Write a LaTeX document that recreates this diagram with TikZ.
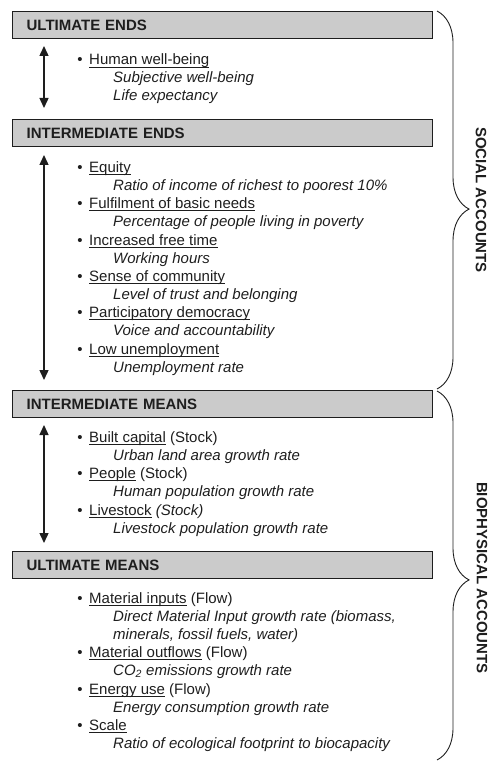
\documentclass[tikz,border=0pt]{standalone}
\usepackage{fontspec}
\setmainfont{Liberation Sans}
\usetikzlibrary{arrows.meta,positioning,decorations.pathreplacing}
\definecolor{ink}{HTML}{1E1E1E}
\definecolor{boxgray}{HTML}{CBCBCB}
\newsavebox{\ulbox}
\newcommand{\ulin}[1]{\sbox{\ulbox}{#1}\rlap{\rule[-2.6pt]{\wd\ulbox}{0.9pt}}\usebox{\ulbox}}
\newcommand{\bul}{\llap{\textbullet\hspace{6.5pt}}}
\begin{document}
\begin{tikzpicture}[x=1pt, y=1pt, font=\fontsize{15}{18}\selectfont, text=ink,
	hdr/.style = {draw=ink, fill=boxgray, line width=1.3pt, anchor=north west, text width=392pt, inner xsep=14pt, inner ysep=0pt, minimum height=27pt, align=left, font=\fontsize{15}{18}\selectfont\bfseries},
	itm/.style = {anchor=west, inner sep=0pt, text height=11pt, text depth=3pt},
	sub/.style = {itm, font=\fontsize{15}{18}\selectfont\itshape},
	updown/.style = {{Triangle[length=10pt,width=9pt]}-{Triangle[length=10pt,width=9pt]}, draw=ink, line width=1.4pt},
	brc/.style = {draw=ink, line width=0.9pt, decorate, decoration={brace, amplitude=32pt, aspect=#1}},
	side/.style = {rotate=-90, font=\fontsize{15}{18}\selectfont\bfseries}]
\useasboundingbox (0,0) rectangle (493,-762);
% headers
\node [hdr] (ue) at (12,-11) {ULTIMATE ENDS};
\node [hdr] (ie) at (12,-119) {INTERMEDIATE ENDS};
\node [hdr] (im) at (12,-390) {INTERMEDIATE MEANS};
\node [hdr] (um) at (12,-551) {ULTIMATE MEANS};
% ultimate ends
\node [itm] (hwb) at (89,-61) {\bul\ulin{Human well-being}};
\node [sub] (swb) at (113,-79) {Subjective well-being};
\node [sub] (lex) at (113,-97) {Life expectancy};
% intermediate ends
\node [itm] (eq) at (89,-168) {\bul\ulin{Equity}};
\node [sub] (eqr) at (113,-186) {Ratio of income of richest to poorest 10\%};
\node [itm] (bn) at (89,-204) {\bul\ulin{Fulfilment of basic needs}};
\node [sub] (bnr) at (113,-222) {Percentage of people living in poverty};
\node [itm] (ft) at (89,-241) {\bul\ulin{Increased free time}};
\node [sub] (ftr) at (113,-259) {Working hours};
\node [itm] (sc) at (89,-277) {\bul\ulin{Sense of community}};
\node [sub] (scr) at (113,-295) {Level of trust and belonging};
\node [itm] (pd) at (89,-313) {\bul\ulin{Participatory democracy}};
\node [sub] (pdr) at (113,-331) {Voice and accountability};
\node [itm] (lu) at (89,-350) {\bul\ulin{Low unemployment}};
\node [sub] (lur) at (113,-368) {Unemployment rate};
% intermediate means
\node [itm] (bc) at (89,-438) {\bul\ulin{Built capital} (Stock)};
\node [sub] (bcr) at (113,-456) {Urban land area growth rate};
\node [itm] (pp) at (89,-474) {\bul\ulin{People} (Stock)};
\node [sub] (ppr) at (113,-492) {Human population growth rate};
\node [itm] (ls) at (89,-511) {\bul\ulin{Livestock} \textit{(Stock)}};
\node [sub] (lsr) at (113,-529) {Livestock population growth rate};
% ultimate means
\node [itm] (mi) at (89,-599) {\bul\ulin{Material inputs} (Flow)};
\node [sub] (mir) at (113,-617) {Direct Material Input growth rate (biomass,};
\node [sub] (mir2) at (113,-635) {minerals, fossil fuels, water)};
\node [itm] (mo) at (89,-653) {\bul\ulin{Material outflows} (Flow)};
\node [sub] (mor) at (113,-671) {CO\textsubscript{2} emissions growth rate};
\node [itm] (eu) at (89,-690) {\bul\ulin{Energy use} (Flow)};
\node [sub] (eur) at (113,-708) {Energy consumption growth rate};
\node [itm] (sl) at (89,-726) {\bul\ulin{Scale}};
\node [sub] (slr) at (113,-744) {Ratio of ecological footprint to biocapacity};
% arrows between levels
\coordinate (a1t) at (44,-46);  \coordinate (a1b) at (44,-108);
\coordinate (a2t) at (44,-155); \coordinate (a2b) at (44,-380);
\coordinate (a3t) at (44,-425); \coordinate (a3b) at (44,-543);
\draw [updown] (a1t) -- (a1b);
\draw [updown] (a2t) -- (a2b);
\draw [updown] (a3t) -- (a3b);
% accounts
\coordinate (soct) at (437,-11);  \coordinate (socb) at (437,-389);
\coordinate (biot) at (437,-391); \coordinate (biob) at (437,-760);
\draw [brc=0.524] (soct) -- (socb);
\draw [brc=0.512] (biot) -- (biob);
\node [side] (soc) at (481,-200) {SOCIAL ACCOUNTS};
\node [side] (bio) at (482,-578) {BIOPHYSICAL ACCOUNTS};
\end{tikzpicture}
\end{document}
